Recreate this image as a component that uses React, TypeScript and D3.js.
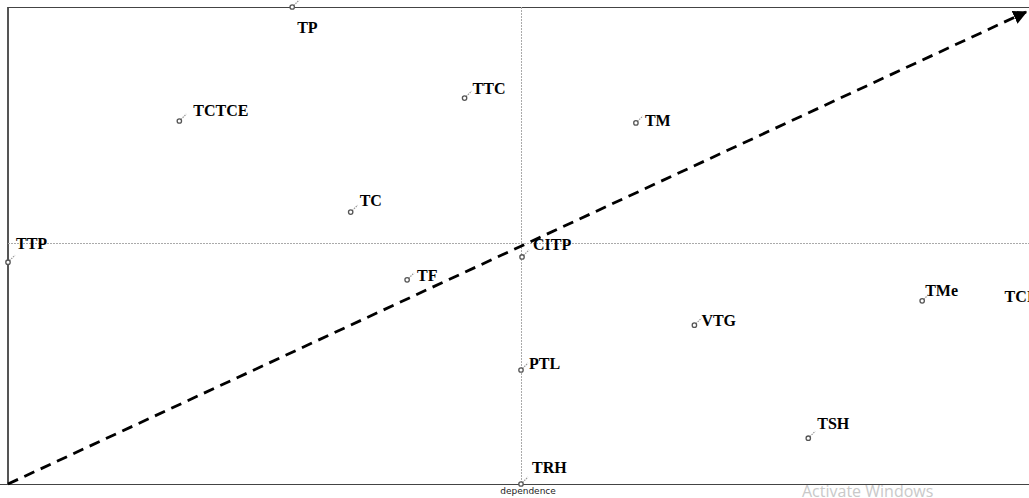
// @ts-nocheck
import * as d3 from "d3";
import { useEffect, useRef } from "react";

// variables (influence / dependence map)
const labels = ["TP", "TCTCE", "TTC", "TM", "TC", "TTP", "CITP", "TF", "TMe", "TCI", "VTG", "PTL", "TSH", "TRH"];
const dependence = [27.7, 16.7, 44.5, 61.2, 33.4, 0.0, 50.1, 38.9, 89.1, 100.0, 66.9, 50.0, 78.0, 50.0];
const influence = [100.0, 76.1, 80.9, 75.7, 57.0, 46.5, 47.6, 42.8, 38.4, 37.3, 33.3, 23.9, 9.6, 0.0];
const meanDependence = 50.0;
const meanInfluence = 50.5;

// label placement next to each marker (dx, dy in px), same order as labels
const labelDx = [5, 14, 8, 9, 9, 8, 11, 10, 3, -1, 7, 8, 9, 11];
const labelDy = [26, -5, -4, 3, -6, -13, -7, 1, -5, -4, 1, -1, -9, -11];

const W = 1029, H = 498;

const App = () => {
    const ref = useRef(null);

    useEffect(() => {
        const svg = d3.select(ref.current);
        svg.selectAll("*").remove();

        const x = d3.scaleLinear().domain([0, 100]).range([8, 1034]);
        const y = d3.scaleLinear().domain([0, 100]).range([484, 7]);

        const data = labels.map((l, i) => ({ label: l, x: dependence[i], y: influence[i], dx: labelDx[i], dy: labelDy[i] }));

        // frame
        svg.append("line").attr("x1", x(0)).attr("x2", x(0)).attr("y1", y(100)).attr("y2", y(0))
            .attr("stroke", "#555").attr("stroke-width", 1.5).attr("shape-rendering", "crispEdges");
        svg.append("line").attr("x1", x(0)).attr("x2", W).attr("y1", y(100)).attr("y2", y(100))
            .attr("stroke", "#444").attr("stroke-width", 1).attr("shape-rendering", "crispEdges");
        svg.append("line").attr("x1", 0).attr("x2", W).attr("y1", y(0)).attr("y2", y(0))
            .attr("stroke", "#444").attr("stroke-width", 1).attr("shape-rendering", "crispEdges");

        // mean lines
        svg.append("line").attr("x1", x(0)).attr("x2", W).attr("y1", y(meanInfluence)).attr("y2", y(meanInfluence))
            .attr("stroke", "#aaa").attr("stroke-dasharray", "2,1").attr("shape-rendering", "crispEdges");
        svg.append("line").attr("x1", x(meanDependence)).attr("x2", x(meanDependence)).attr("y1", y(100)).attr("y2", y(0))
            .attr("stroke", "#aaa").attr("stroke-dasharray", "2,1").attr("shape-rendering", "crispEdges");

        // diagonal arrow
        svg.append("defs").append("marker")
            .attr("id", "arrowhead")
            .attr("viewBox", "0 0 10 10")
            .attr("refX", 9).attr("refY", 5)
            .attr("markerWidth", 5).attr("markerHeight", 5)
            .attr("orient", "auto")
            .append("path").attr("d", "M0,0 L10,5 L0,10 z").attr("fill", "#000");
        svg.append("line")
            .attr("x1", x(0)).attr("y1", y(0))
            .attr("x2", 1026).attr("y2", 12)
            .attr("stroke", "#000").attr("stroke-width", 2.8)
            .attr("stroke-dasharray", "11,7")
            .attr("marker-end", "url(#arrowhead)");

        // point markers
        const pts = svg.selectAll(".pt").data(data).enter().append("g")
            .attr("transform", d => "translate(" + x(d.x) + "," + y(d.y) + ")");
        pts.append("line").attr("x1", 1.5).attr("y1", -1.5).attr("x2", 7).attr("y2", -7)
            .attr("stroke", "#999").attr("stroke-width", 1.2).attr("stroke-dasharray", "1.5,1");
        pts.append("circle").attr("r", 2.2).attr("fill", "#fff").attr("stroke", "#555").attr("stroke-width", 1.3);

        // labels
        svg.selectAll(".lbl").data(data).enter().append("text")
            .attr("x", d => x(d.x) + d.dx)
            .attr("y", d => y(d.y) + d.dy)
            .attr("text-anchor", d => d.dx < 0 ? "end" : "start")
            .attr("font-family", "'Liberation Serif', 'Times New Roman', serif")
            .attr("font-weight", "bold")
            .attr("font-size", "16px")
            .attr("fill", "#000")
            .text(d => d.label);

        // axis title
        svg.append("text")
            .attr("x", x(meanDependence) + 7).attr("y", 494)
            .attr("text-anchor", "middle")
            .attr("font-family", "'DejaVu Sans', sans-serif")
            .attr("font-size", "9px")
            .attr("fill", "#222")
            .text("dependence");

        // watermark
        svg.append("text")
            .attr("x", 802).attr("y", 497)
            .attr("font-family", "'Open Sans', 'DejaVu Sans', sans-serif")
            .attr("font-size", "16px")
            .attr("fill", "#c9c9c9")
            .text("Activate Windows");
    }, []);

    return <svg ref={ref} width={W} height={H}
        style={{ position: "absolute", left: 0, top: 0, background: "#fff" }} />;
};

export default App;
